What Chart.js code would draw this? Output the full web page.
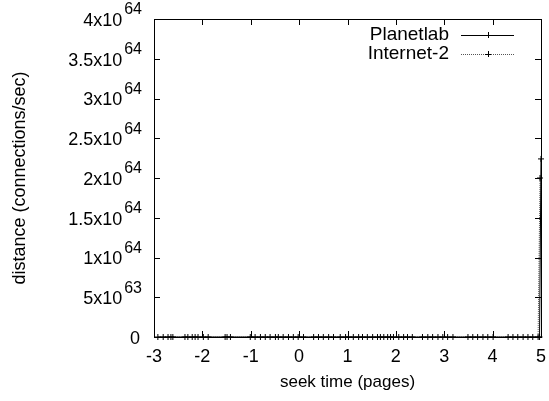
<!DOCTYPE html>
<html>
<head>
<meta charset="utf-8">
<script src="https://cdn.jsdelivr.net/npm/chart.js@4.4.0/dist/chart.umd.min.js"></script>
<style>
  html, body { margin: 0; padding: 0; background: #fff; }
</style>
</head>
<body>
<canvas id="myChart" width="549" height="401"></canvas>
<script>
  'use strict'

  // data
  const xTicks = [-3, -2, -1, 0, 1, 2, 3, 4, 5]
  const yTicks = [0, 5e63, 1e64, 1.5e64, 2e64, 2.5e64, 3e64, 3.5e64, 4e64]

  const planetlabX = [-2.92, -2.71, -2.61, -2.30, -2.15, -1.98, -1.53, -1.42, -0.91, -0.70,
    -0.49, -0.33, -0.12, 0.09, 0.40, 0.61, 0.85, 1.02, 1.23, 1.41,
    1.62, 1.75, 1.89, 2.06, 2.24, 2.55, 2.76, 2.97, 3.18, 3.59,
    3.80, 4.01, 4.42, 4.63, 4.83, 4.97, 5.0]
  const planetlabY = [0, 0, 0, 0, 0, 0, 0, 0, 0, 0,
    0, 0, 0, 0, 0, 0, 0, 0, 0, 0,
    0, 0, 0, 0, 0, 0, 0, 0, 0, 0,
    0, 0, 0, 0, 0, 0, 2.24e64]

  const internet2X = [-2.81, -2.65, -2.36, -2.21, -2.09, -1.88, -1.49, -1.01, -0.80, -0.60,
    -0.43, -0.22, -0.02, 0.30, 0.50, 0.71, 0.96, 1.12, 1.31, 1.52,
    1.68, 1.83, 1.95, 2.16, 2.34, 2.66, 2.87, 3.07, 3.49, 3.69,
    3.90, 4.32, 4.52, 4.73, 4.94, 4.98]
  const internet2Y = [0, 0, 0, 0, 0, 0, 0, 0, 0, 0,
    0, 0, 0, 0, 0, 0, 0, 0, 0, 0,
    0, 0, 0, 0, 0, 0, 0, 0, 0, 0,
    0, 0, 0, 0, 0, 2.0e64]

  const FONT = '"Liberation Sans", Arial, sans-serif'

  function points(xs, ys) {
    return xs.map((x, i) => ({ x: x, y: ys[i] }))
  }

  function sciLabel(v) {
    if (v === 0) return ['0', '']
    const e = Math.floor(Math.log10(v) + 1e-9)
    const m = Math.round(v / Math.pow(10, e) * 10) / 10
    return [m + 'x10', String(e)]
  }

  // frame, inward ticks on all sides, tick labels, titles, legend (gnuplot look)
  const gnuplotFrame = {
    id: 'gnuplotFrame',
    afterDraw(chart) {
      const c = chart.ctx
      const a = chart.chartArea
      const xs = chart.scales.x
      const ys = chart.scales.y
      const tl = 6
      c.save()
      c.strokeStyle = '#000'
      c.lineWidth = 1
      c.strokeRect(Math.round(a.left) + 0.5, Math.round(a.top) + 0.5,
        Math.round(a.right - a.left), Math.round(a.bottom - a.top))

      c.beginPath()
      xTicks.forEach(v => {
        const px = Math.round(xs.getPixelForValue(v)) + 0.5
        c.moveTo(px, a.bottom); c.lineTo(px, a.bottom - tl)
        c.moveTo(px, a.top); c.lineTo(px, a.top + tl)
      })
      yTicks.forEach(v => {
        const py = Math.round(ys.getPixelForValue(v)) + 0.5
        c.moveTo(a.left, py); c.lineTo(a.left + tl, py)
        c.moveTo(a.right, py); c.lineTo(a.right - tl, py)
      })
      c.stroke()

      c.fillStyle = '#000'
      c.font = '18px ' + FONT
      c.textAlign = 'center'
      c.textBaseline = 'middle'
      xTicks.forEach(v => {
        c.fillText(String(v), xs.getPixelForValue(v), a.bottom + 20)
      })

      yTicks.forEach(v => {
        const py = ys.getPixelForValue(v)
        const [base, sup] = sciLabel(v)
        const right = a.left - 12
        c.font = '16px ' + FONT
        const sw = sup ? c.measureText(sup).width : 0
        c.textAlign = 'right'
        c.textBaseline = 'middle'
        if (sup) c.fillText(sup, right, py - 9)
        c.font = '18px ' + FONT
        c.fillText(base, right - sw - 2, py + 2)
      })

      c.font = '17px ' + FONT
      c.textAlign = 'center'
      c.fillText('seek time (pages)', (a.left + a.right) / 2, a.bottom + 45)
      c.font = '18px ' + FONT
      c.save()
      c.translate(20, (a.top + a.bottom) / 2)
      c.rotate(-Math.PI / 2)
      c.fillText('distance (connections/sec)', 0, 0)
      c.restore()

      // legend inside the top right corner
      chart.data.datasets.forEach((ds, i) => {
        const ly = a.top + 16 + i * 19
        c.font = '19px ' + FONT
        c.textAlign = 'right'
        c.fillStyle = '#000'
        c.fillText(ds.label, a.right - 92, ly)
        c.beginPath()
        c.strokeStyle = ds.borderColor
        c.setLineDash(ds.borderDash || [])
        c.moveTo(a.right - 80, ly + 0.5)
        c.lineTo(a.right - 27, ly + 0.5)
        c.stroke()
        c.setLineDash([])
        const mx = a.right - 53
        c.beginPath()
        c.strokeStyle = '#000'
        c.moveTo(mx - 3, ly + 0.5); c.lineTo(mx + 3, ly + 0.5)
        c.moveTo(mx + 0.5, ly - 3); c.lineTo(mx + 0.5, ly + 3)
        c.stroke()
      })
      c.restore()
    }
  }

  const ctx = document.getElementById('myChart')
  const myChart = new Chart(ctx, {
    type: 'line',
    data: {
      datasets: [{
        label: 'Planetlab',
        data: points(planetlabX, planetlabY),
        borderColor: '#000',
        borderWidth: 1,
        pointStyle: 'cross',
        pointRadius: 3,
        pointBorderColor: '#000',
        pointBorderWidth: 1,
        lineTension: 0,
        fill: false,
        clip: false
      }, {
        label: 'Internet-2',
        data: points(internet2X, internet2Y),
        borderColor: '#555',
        borderWidth: 1,
        borderDash: [1, 1],
        pointStyle: 'cross',
        pointRadius: 3,
        pointBorderColor: '#000',
        pointBorderWidth: 1,
        lineTension: 0,
        fill: false,
        clip: false
      }]
    },
    options: {
      responsive: false,
      animation: false,
      layout: {
        padding: { left: 154, right: 8, top: 19, bottom: 64 }
      },
      scales: {
        x: { type: 'linear', min: -3, max: 5, display: false },
        y: { type: 'linear', min: 0, max: 4e64, display: false }
      },
      plugins: {
        legend: { display: false },
        tooltip: { enabled: false }
      }
    },
    plugins: [gnuplotFrame]
  })
</script>
</body>
</html>
